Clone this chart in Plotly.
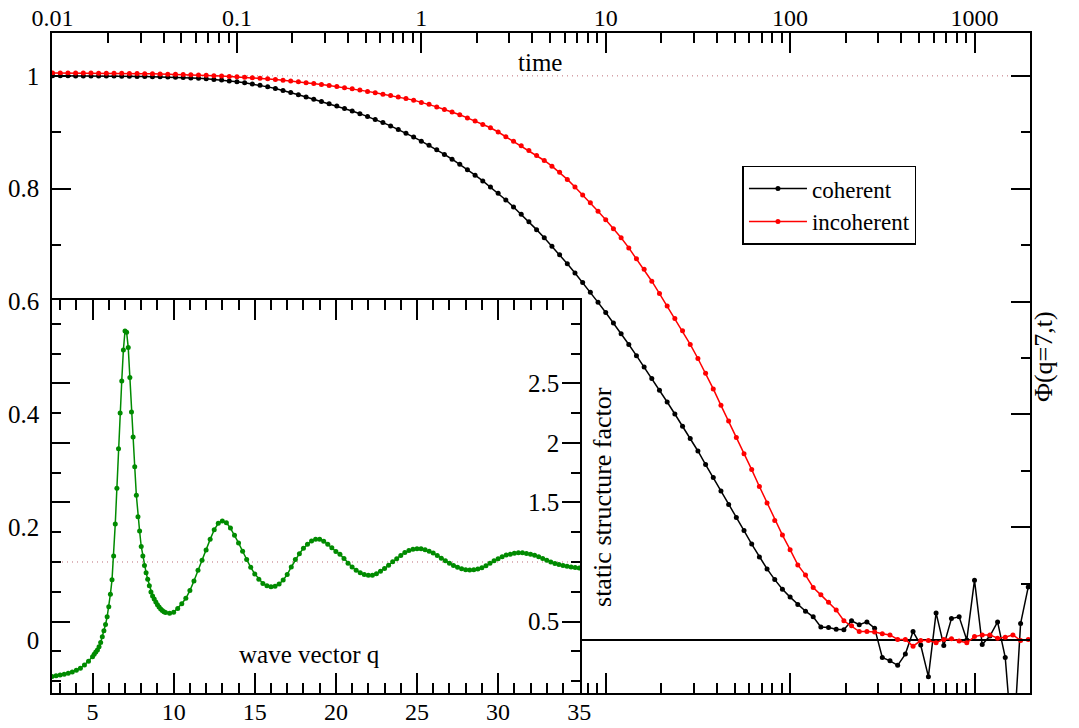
import plotly.graph_objects as go

# ---------------- data ----------------
time = [
    0.01, 0.01101, 0.01212, 0.01334, 0.01468, 0.01616, 0.01778, 0.01957, 0.02154, 0.02371, 0.0261, 0.02873,
    0.03162, 0.03481, 0.03831, 0.04217, 0.04642, 0.05109, 0.05623, 0.0619, 0.06813, 0.07499, 0.08254, 0.09085,
    0.1, 0.1101, 0.1212, 0.1334, 0.1468, 0.1616, 0.1778, 0.1957, 0.2154, 0.2371, 0.261, 0.2873,
    0.3162, 0.3481, 0.3831, 0.4217, 0.4642, 0.5109, 0.5623, 0.619, 0.6813, 0.7499, 0.8254, 0.9085,
    1.0, 1.101, 1.212, 1.334, 1.468, 1.616, 1.778, 1.957, 2.154, 2.371, 2.61, 2.873,
    3.162, 3.481, 3.831, 4.217, 4.642, 5.109, 5.623, 6.19, 6.813, 7.499, 8.254, 9.085,
    10.0, 11.01, 12.12, 13.34, 14.68, 16.16, 17.78, 19.57, 21.54, 23.71, 26.1, 28.73,
    31.62, 34.81, 38.31, 42.17, 46.42, 51.09, 56.23, 61.9, 68.13, 74.99, 82.54, 90.85,
    100.0, 110.1, 121.2, 133.4, 146.8, 161.6, 177.8, 195.7, 215.4, 237.1, 261.0, 287.3,
    316.2, 348.1, 383.1, 421.7, 464.2, 510.9, 562.3, 619.0, 681.3, 749.9, 825.4, 908.5,
    1000.0, 1101.0, 1212.0, 1334.0, 1468.0, 1616.0, 1778.0, 1957.0,
]

coherent = [
    1.000, 1.000, 1.000, 0.9999, 0.9999, 0.9998, 0.9998, 0.9997, 0.9996, 0.9995,
    0.9993, 0.9991, 0.9989, 0.9986, 0.9983, 0.9979, 0.9975, 0.9970, 0.9963, 0.9956,
    0.9947, 0.9937, 0.9925, 0.9911, 0.9895, 0.9877, 0.9856, 0.9833, 0.9805, 0.9775,
    0.9742, 0.9705, 0.9665, 0.9625, 0.9585, 0.9545, 0.9505, 0.9465, 0.9422, 0.9377,
    0.9330, 0.9280, 0.9227, 0.9172, 0.9113, 0.9050, 0.8985, 0.8915, 0.8843, 0.8768,
    0.8690, 0.8608, 0.8522, 0.8432, 0.8338, 0.8240, 0.8137, 0.8030, 0.7918, 0.7800,
    0.7676, 0.7547, 0.7413, 0.7274, 0.7130, 0.6981, 0.6827, 0.6668, 0.6504, 0.6335,
    0.6162, 0.5985, 0.5804, 0.5619, 0.5430, 0.5237, 0.5040, 0.4840, 0.4636, 0.4429,
    0.4219, 0.4006, 0.3790, 0.3571, 0.3350, 0.311, 0.288, 0.264, 0.240, 0.217,
    0.194, 0.170, 0.147, 0.126, 0.107, 0.090, 0.076, 0.063, 0.051, 0.041,
    0.023, 0.022, 0.019, 0.018, 0.034, 0.027, 0.032, 0.021, -0.031, -0.037,
    -0.045, -0.025, 0.015, -0.009, -0.065, 0.048, -0.010, 0.038, 0.041, 0.000,
    0.106, -0.008, 0.007, 0.032, -0.031, -0.200, 0.029, 0.094,
]

incoherent = [
    1.005, 1.005, 1.005, 1.005, 1.005, 1.005, 1.0048, 1.0047, 1.0046, 1.0045,
    1.0043, 1.0041, 1.0039, 1.0036, 1.0033, 1.0030, 1.0027, 1.0023, 1.0019, 1.0014,
    1.0009, 1.0003, 0.9997, 0.9990, 0.9983, 0.9975, 0.9966, 0.9957, 0.9947, 0.9936,
    0.9924, 0.9911, 0.9897, 0.9880, 0.9863, 0.9846, 0.9828, 0.9810, 0.9790, 0.9770,
    0.9750, 0.9725, 0.9700, 0.9675, 0.9650, 0.9625, 0.9600, 0.9570, 0.9530, 0.9495,
    0.9450, 0.9405, 0.9360, 0.9310, 0.9255, 0.9200, 0.9140, 0.9080, 0.9005, 0.8920,
    0.8840, 0.8760, 0.8675, 0.8590, 0.8500, 0.8400, 0.8290, 0.8165, 0.8030, 0.7890,
    0.775, 0.760, 0.745, 0.729, 0.713, 0.695, 0.676, 0.657, 0.636, 0.614,
    0.592, 0.570, 0.548, 0.524, 0.499, 0.473, 0.445, 0.416, 0.388, 0.359,
    0.330, 0.302, 0.272, 0.243, 0.212, 0.186, 0.160, 0.133, 0.115, 0.093,
    0.080, 0.067, 0.053, 0.034, 0.025, 0.015, 0.015, 0.014, 0.011, 0.009,
    0.001, 0.001, -0.011, -0.001, -0.001, -0.005, 0.001, 0.002, -0.002, -0.005,
    0.006, 0.009, 0.009, 0.003, 0.005, 0.009, -0.001, 0.001,
]

q = [
    2.5, 2.75, 3.0, 3.25, 3.5, 3.75, 4.0, 4.25, 4.5, 4.75,
    5.0, 5.1, 5.2, 5.3, 5.4, 5.5, 5.6, 5.7, 5.8, 5.9,
    6.0, 6.1, 6.2, 6.3, 6.4, 6.5, 6.6, 6.7, 6.8, 6.9,
    7.0, 7.1, 7.2, 7.3, 7.4, 7.5, 7.6, 7.7, 7.8, 7.9,
    8.0, 8.1, 8.2, 8.3, 8.4, 8.5, 8.6, 8.7, 8.8, 8.9,
    9.0, 9.1, 9.2, 9.3, 9.4, 9.5,
    9.75,
    10.0, 10.25, 10.5, 10.75, 11.0, 11.25, 11.5, 11.75, 12.0, 12.25, 12.5, 12.75,
    13.0, 13.25, 13.5, 13.75, 14.0, 14.25, 14.5, 14.75, 15.0, 15.25, 15.5, 15.75,
    16.0, 16.25, 16.5, 16.75, 17.0, 17.25, 17.5, 17.75, 18.0, 18.25, 18.5, 18.75,
    19.0, 19.25, 19.5, 19.75, 20.0, 20.25, 20.5, 20.75, 21.0, 21.25, 21.5, 21.75,
    22.0, 22.25, 22.5, 22.75, 23.0, 23.25, 23.5, 23.75, 24.0, 24.25, 24.5, 24.75,
    25.0, 25.25, 25.5, 25.75, 26.0, 26.25, 26.5, 26.75, 27.0, 27.25, 27.5, 27.75,
    28.0, 28.25, 28.5, 28.75, 29.0, 29.25, 29.5, 29.75, 30.0, 30.25, 30.5, 30.75,
    31.0, 31.25, 31.5, 31.75, 32.0, 32.25, 32.5, 32.75, 33.0, 33.25, 33.5, 33.75,
    34.0, 34.25, 34.5, 34.75,
    35.0,
]

sq = [
    0.039, 0.045, 0.051, 0.058, 0.066, 0.076, 0.090, 0.108, 0.135, 0.166,
    0.205, 0.225, 0.245, 0.262, 0.288, 0.325, 0.372, 0.422, 0.475, 0.540,
    0.625, 0.73, 0.85, 1.05, 1.32, 1.62, 1.95, 2.25, 2.52, 2.78,
    2.94, 2.93, 2.80, 2.55, 2.26, 2.05, 1.80, 1.56, 1.38, 1.26,
    1.13, 1.05, 0.97, 0.91, 0.855, 0.80, 0.748, 0.715, 0.69, 0.665,
    0.642, 0.622, 0.605, 0.592, 0.582, 0.575,
    0.570,
    0.578, 0.61, 0.65, 0.695, 0.76, 0.84, 0.93, 1.015, 1.10, 1.19, 1.27, 1.325,
    1.345, 1.33, 1.285, 1.225, 1.16, 1.09, 1.02, 0.955, 0.90, 0.855, 0.82, 0.80,
    0.793, 0.797, 0.815, 0.848, 0.895, 0.958, 1.02, 1.07, 1.115, 1.15, 1.177, 1.19,
    1.19, 1.175, 1.15, 1.12, 1.088, 1.065, 1.03, 0.99, 0.958, 0.93, 0.91, 0.896,
    0.889, 0.888, 0.902, 0.922, 0.945, 0.973, 1.002, 1.028, 1.055, 1.08, 1.096, 1.106,
    1.111, 1.111, 1.102, 1.09, 1.075, 1.055, 1.032, 1.01, 0.99, 0.971, 0.955, 0.943,
    0.935, 0.932, 0.934, 0.941, 0.951, 0.968, 0.99, 1.01, 1.028, 1.045, 1.058, 1.066,
    1.073, 1.077, 1.077, 1.072, 1.065, 1.057, 1.045, 1.03, 1.015, 0.999, 0.987, 0.979,
    0.971, 0.964, 0.958, 0.953,
    0.950,
]

time_major = [0.01, 0.1, 1, 10, 100, 1000]
time_major_text = ["0.01", "0.1", "1", "10", "100", "1000"]
time_minor = [m * d for d in (0.01, 0.1, 1, 10, 100) for m in range(2, 10)]
phi_ticks = [0, 0.2, 0.4, 0.6, 0.8, 1.0]
phi_text = ["0", "0.2", "0.4", "0.6", "0.8", "1"]
q_ticks = [5, 10, 15, 20, 25, 30, 35]
q_text = ["5", "10", "15", "20", "25", "30", "35"]
sq_ticks = [0.5, 1.5, 2.0, 2.5]
sq_text = ["0.5", "1.5", "2", "2.5"]

# ---------------- styling ----------------
FONT = "Liberation Serif"
GREEN = "rgb(0,139,0)"
DOTC = "rgb(190,110,120)"
X2_RANGE = [2.5, 35.05]
Y2_RANGE = [-0.1, 3.2]

fig = go.Figure()

fig.add_trace(go.Scatter(
    x=time, y=coherent, mode="lines+markers", name="coherent",
    line=dict(color="black", width=1.5), marker=dict(color="black", size=5),
    xaxis="x", yaxis="y"))
fig.add_trace(go.Scatter(
    x=time, y=incoherent, mode="lines+markers", name="incoherent",
    line=dict(color="red", width=1.5), marker=dict(color="red", size=5),
    xaxis="x", yaxis="y"))

# inset background (white panel hiding the main plot behind the inset)
fig.add_trace(go.Scatter(
    x=[X2_RANGE[0] - 1, X2_RANGE[1] + 1, X2_RANGE[1] + 1, X2_RANGE[0] - 1, X2_RANGE[0] - 1],
    y=[Y2_RANGE[0] - 1, Y2_RANGE[0] - 1, Y2_RANGE[1] + 1, Y2_RANGE[1] + 1, Y2_RANGE[0] - 1],
    mode="lines", fill="toself", fillcolor="white", line=dict(width=0, color="white"),
    showlegend=False, hoverinfo="skip", xaxis="x2", yaxis="y2"))
# reference line S(q)=1
fig.add_trace(go.Scatter(
    x=X2_RANGE, y=[1, 1], mode="lines", line=dict(color=DOTC, width=1, dash="1px,4px"),
    showlegend=False, hoverinfo="skip", xaxis="x2", yaxis="y2"))
fig.add_trace(go.Scatter(
    x=q, y=sq, mode="lines+markers", line=dict(color=GREEN, width=1.5),
    marker=dict(color=GREEN, size=5), showlegend=False, xaxis="x2", yaxis="y2"))

tickfont = dict(family=FONT, size=25, color="black")
common = dict(showline=True, linecolor="black", linewidth=1.5, mirror="ticks",
              ticks="inside", tickcolor="black", tickwidth=1.5, showgrid=False,
              automargin=False)

fig.update_layout(
    template="none",
    width=1079, height=728,
    margin=dict(l=52, r=49, t=33, b=35, pad=0),
    paper_bgcolor="white", plot_bgcolor="rgba(0,0,0,0)",
    showlegend=True,
    legend=dict(x=0.706, y=0.799, xanchor="left", yanchor="top", bgcolor="white",
                bordercolor="black", borderwidth=1.5, itemwidth=58,
                font=dict(family=FONT, size=23, color="black")),
    xaxis=dict(type="log", range=[-2.003, 3.301], side="top", domain=[0, 1], anchor="y",
               tickvals=time_major, ticktext=time_major_text, ticklen=20,
               tickfont=dict(family=FONT, size=24, color="black"),
               ticklabelstandoff=-4, zeroline=False,
               minor=dict(ticks="inside", ticklen=10, tickwidth=1.5, tickcolor="black",
                          tickvals=time_minor, showgrid=False),
               **common),
    yaxis=dict(range=[-0.094, 1.076], domain=[0, 1], anchor="x",
               tickvals=phi_ticks, ticktext=phi_text, ticklen=19, ticklabelstandoff=6,
               tickfont=tickfont,
               zeroline=True, zerolinecolor="black", zerolinewidth=1.5,
               minor=dict(ticks="inside", ticklen=9, tickwidth=1.5, tickcolor="black",
                          dtick=0.1, tick0=0, showgrid=False),
               **common),
    xaxis2=dict(range=X2_RANGE, domain=[0, 0.5399], anchor="y2",
                tickvals=q_ticks, ticktext=q_text, ticklen=20, zeroline=False,
                ticklabelstandoff=-4, ticklabeloverflow="allow",
                tickfont=dict(family=FONT, size=24, color="black"),
                minor=dict(ticks="inside", ticklen=10, tickwidth=1.5, tickcolor="black",
                           dtick=1, tick0=0, showgrid=False),
                **common),
    yaxis2=dict(range=Y2_RANGE, domain=[0, 0.5955], anchor="x2", side="right",
                tickvals=sq_ticks, ticktext=sq_text, ticklen=18,
                ticklabelposition="inside", ticklabelstandoff=5, zeroline=False,
                ticklabeloverflow="allow", tickfont=tickfont,
                minor=dict(ticks="inside", ticklen=9, tickwidth=1.5, tickcolor="black",
                           dtick=0.25, tick0=0, showgrid=False),
                **common),
    shapes=[dict(type="line", xref="x domain", yref="y", x0=0, x1=1, y0=1, y1=1,
                 layer="below", line=dict(color=DOTC, width=1, dash="1px,4px"))],
    annotations=[
        dict(text="time", x=0.499, y=0.956, xref="paper", yref="paper", showarrow=False,
             xanchor="center", yanchor="middle",
             font=dict(family=FONT, size=25, color="black")),
        dict(text="wave vector q", x=0.2638, y=0.0576, xref="paper", yref="paper",
             showarrow=False, xanchor="center", yanchor="middle",
             font=dict(family=FONT, size=25, color="black")),
        dict(text="static structure factor", x=0.5634, y=0.297, xref="paper", yref="paper",
             showarrow=False, textangle=-90, xanchor="center", yanchor="middle",
             font=dict(family=FONT, size=26, color="black")),
        dict(text="Φ(q=7,t)", x=1.0133, y=0.509, xref="paper", yref="paper",
             showarrow=False, textangle=-90, xanchor="center", yanchor="middle",
             font=dict(family=FONT, size=26, color="black")),
    ],
)

fig.write_html("out.html", config={"displayModeBar": False})
